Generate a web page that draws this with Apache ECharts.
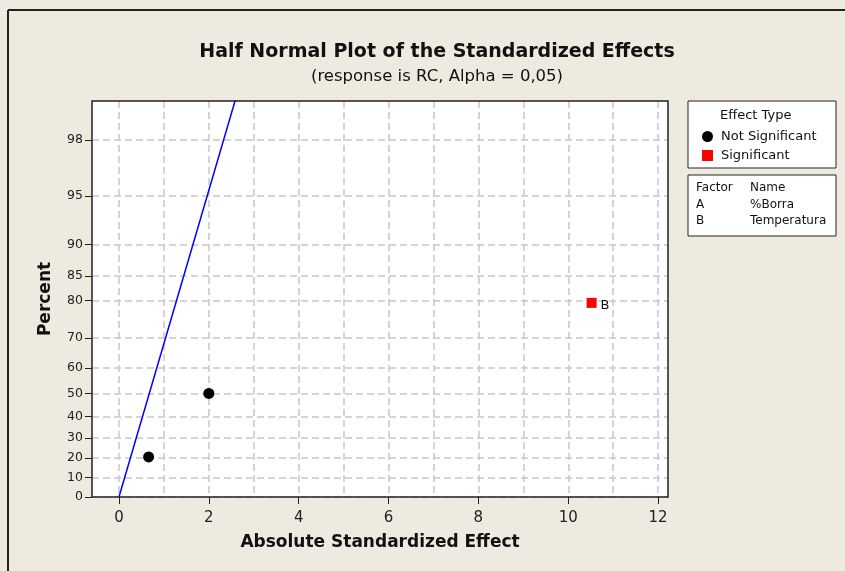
<!DOCTYPE html>
<html>
<head>
<meta charset="utf-8">
<script src="https://cdn.jsdelivr.net/npm/echarts@6/dist/echarts.min.js"></script>
<style>
  html, body { margin: 0; padding: 0; background: #fff; }
  #chart { width: 845px; height: 571px; }
</style>
</head>
<body>
<div id="chart"></div>
<script>
// percent ticks on the half normal scale
var percentTicks = [0, 10, 20, 30, 40, 50, 60, 70, 80, 85, 90, 95, 98];
var xTicks = [0, 2, 4, 6, 8, 10, 12];
var xGrid = [0, 1, 2, 3, 4, 5, 6, 7, 8, 9, 10, 11, 12];

// effects: [absolute standardized effect, percent]
var notSignificant = [[0.66, 20.6], [2.0, 50]];
var significant = [[10.52, 79.4]];
var significantNames = ['B'];
// fitted line endpoints [effect, percent]
var fitLine = [[0, 0], [2.7, 99.3]];

var factors = ['A', 'B'];
var factorNames = ['%Borra', 'Temperatura'];

// inverse standard normal cdf (Acklam)
function qnorm(p) {
  var a = [-3.969683028665376e+01, 2.209460984245205e+02, -2.759285104469687e+02, 1.383577518672690e+02, -3.066479806614716e+01, 2.506628277459239e+00];
  var b = [-5.447609879822406e+01, 1.615858368580409e+02, -1.556989798598866e+02, 6.680131188771972e+01, -1.328068155288572e+01];
  var c = [-7.784894002430293e-03, -3.223964580411365e-01, -2.400758277161838e+00, -2.549671010315049e+00, 4.374664141464968e+00, 2.938163982698783e+00];
  var d = [7.784695709041462e-03, 3.224671290700398e-01, 2.445134137142996e+00, 3.754408661907416e+00];
  var q, r;
  if (p < 0.02425) {
    q = Math.sqrt(-2 * Math.log(p));
    return (((((c[0]*q+c[1])*q+c[2])*q+c[3])*q+c[4])*q+c[5]) / ((((d[0]*q+d[1])*q+d[2])*q+d[3])*q+1);
  } else if (p > 1 - 0.02425) {
    q = Math.sqrt(-2 * Math.log(1 - p));
    return -(((((c[0]*q+c[1])*q+c[2])*q+c[3])*q+c[4])*q+c[5]) / ((((d[0]*q+d[1])*q+d[2])*q+d[3])*q+1);
  }
  q = p - 0.5; r = q * q;
  return (((((a[0]*r+a[1])*r+a[2])*r+a[3])*r+a[4])*r+a[5])*q / (((((b[0]*r+b[1])*r+b[2])*r+b[3])*r+b[4])*r+1);
}
// half normal score of a percent
function hz(pct) {
  if (pct <= 0) return 0;
  return qnorm((1 + pct / 100) / 2);
}
function toZ(arr) {
  return arr.map(function (d) { return [d[0], hz(d[1])]; });
}

var yTickZ = percentTicks.map(hz);
var yMax = 2.58;
var xMin = -0.6, xMax = 12.22;
var txt = 'DejaVu Sans';
var gridLine = { color: '#c8c8c8', type: [7, 4], width: 1.5 };

var chart = echarts.init(document.getElementById('chart'));
chart.setOption({
  backgroundColor: '#eeeae0',
  animation: false,
  textStyle: { fontFamily: txt },
  title: {
    text: 'Half Normal Plot of the Standardized Effects',
    subtext: '(response is RC, Alpha = 0,05)',
    left: 432, top: 38, textAlign: 'center',
    itemGap: 6,
    textStyle: { fontSize: 19, fontWeight: 'bold', color: '#111', fontFamily: txt },
    subtextStyle: { fontSize: 16.5, color: '#111', fontFamily: txt }
  },
  legend: {
    left: 697, top: 125, orient: 'vertical',
    itemWidth: 11, itemHeight: 11, itemGap: 6,
    textStyle: { fontSize: 13, color: '#111', fontFamily: txt, padding: [0, 0, 0, 3] },
    data: [{ name: 'Not Significant', icon: 'circle' }, { name: 'Significant', icon: 'rect' }]
  },
  grid: { left: 92, top: 101, width: 576, height: 396, show: true, borderWidth: 0, backgroundColor: '#fff' },
  xAxis: [{
    // grid lines at every unit
    type: 'value', min: xMin, max: xMax, position: 'bottom',
    axisLine: { show: false, onZero: false },
    axisTick: { show: false, customValues: xGrid },
    axisLabel: { show: false, customValues: xGrid },
    splitLine: { show: true, lineStyle: gridLine }
  }, {
    type: 'value', min: xMin, max: xMax, position: 'bottom', offset: 0,
    name: 'Absolute Standardized Effect', nameLocation: 'middle', nameGap: 37,
    nameTextStyle: { fontSize: 17, fontWeight: 'bold', color: '#111', fontFamily: txt },
    axisLine: { show: false, onZero: false },
    axisTick: { show: true, length: 7, lineStyle: { color: '#222' }, customValues: xTicks },
    axisLabel: { fontSize: 15, color: '#222', margin: 14, customValues: xTicks },
    splitLine: { show: false }
  }],
  yAxis: {
    type: 'value', min: 0, max: yMax,
    name: 'Percent', nameLocation: 'middle', nameGap: 38, nameRotate: 90,
    nameTextStyle: { fontSize: 17, fontWeight: 'bold', color: '#111', fontFamily: txt },
    axisLine: { show: false, onZero: false },
    axisTick: { show: true, length: 7, lineStyle: { color: '#222' }, customValues: yTickZ },
    axisLabel: {
      fontSize: 12.5, color: '#222', margin: 9, customValues: yTickZ,
      formatter: function (v) {
        var best = 0;
        yTickZ.forEach(function (z, i) { if (Math.abs(z - v) < Math.abs(yTickZ[best] - v)) best = i; });
        return String(percentTicks[best]);
      }
    },
    splitLine: { show: true, lineStyle: gridLine }
  },
  graphic: [
    { type: 'line', shape: { x1: 8, y1: 10, x2: 845, y2: 10 }, style: { stroke: '#222', lineWidth: 2 } },
    { type: 'line', shape: { x1: 8, y1: 10, x2: 8, y2: 571 }, style: { stroke: '#222', lineWidth: 2 } },
    { type: 'rect', shape: { x: 92, y: 101, width: 576, height: 396 }, style: { fill: null, stroke: '#222', lineWidth: 1.5 }, z: 10 },
    { type: 'rect', shape: { x: 688, y: 101, width: 148, height: 67 }, style: { fill: '#fff', stroke: '#222', lineWidth: 1 }, z: -1 },
    { type: 'text', left: 720, top: 109, style: { text: 'Effect Type', font: '13px "DejaVu Sans"', fill: '#111' } },
    { type: 'rect', shape: { x: 688, y: 175, width: 148, height: 61 }, style: { fill: '#fff', stroke: '#222', lineWidth: 1 } },
    { type: 'text', left: 696, top: 180, style: { text: 'Factor\n' + factors.join('\n'), font: '12px "DejaVu Sans"', fill: '#111', lineHeight: 16.5 } },
    { type: 'text', left: 750, top: 180, style: { text: 'Name\n' + factorNames.join('\n'), font: '12px "DejaVu Sans"', fill: '#111', lineHeight: 16.5 } }
  ],
  series: [
    {
      name: 'fit', type: 'line', xAxisIndex: 1, data: toZ(fitLine), symbol: 'none', clip: true,
      lineStyle: { color: '#0000ff', width: 1.5 }, silent: true, z: 1
    },
    {
      name: 'Not Significant', type: 'scatter', xAxisIndex: 1, data: toZ(notSignificant),
      symbol: 'circle', symbolSize: 11, itemStyle: { color: '#000', opacity: 1 }, z: 3
    },
    {
      name: 'Significant', type: 'scatter', xAxisIndex: 1, data: toZ(significant),
      symbol: 'rect', symbolSize: 10, itemStyle: { color: '#ff0000', opacity: 1 }, z: 3,
      label: {
        show: true, position: 'right', distance: 4, fontSize: 13, color: '#111', fontFamily: txt,
        offset: [0, 3],
        formatter: function (p) { return significantNames[p.dataIndex]; }
      }
    }
  ]
});
</script>
</body>
</html>
